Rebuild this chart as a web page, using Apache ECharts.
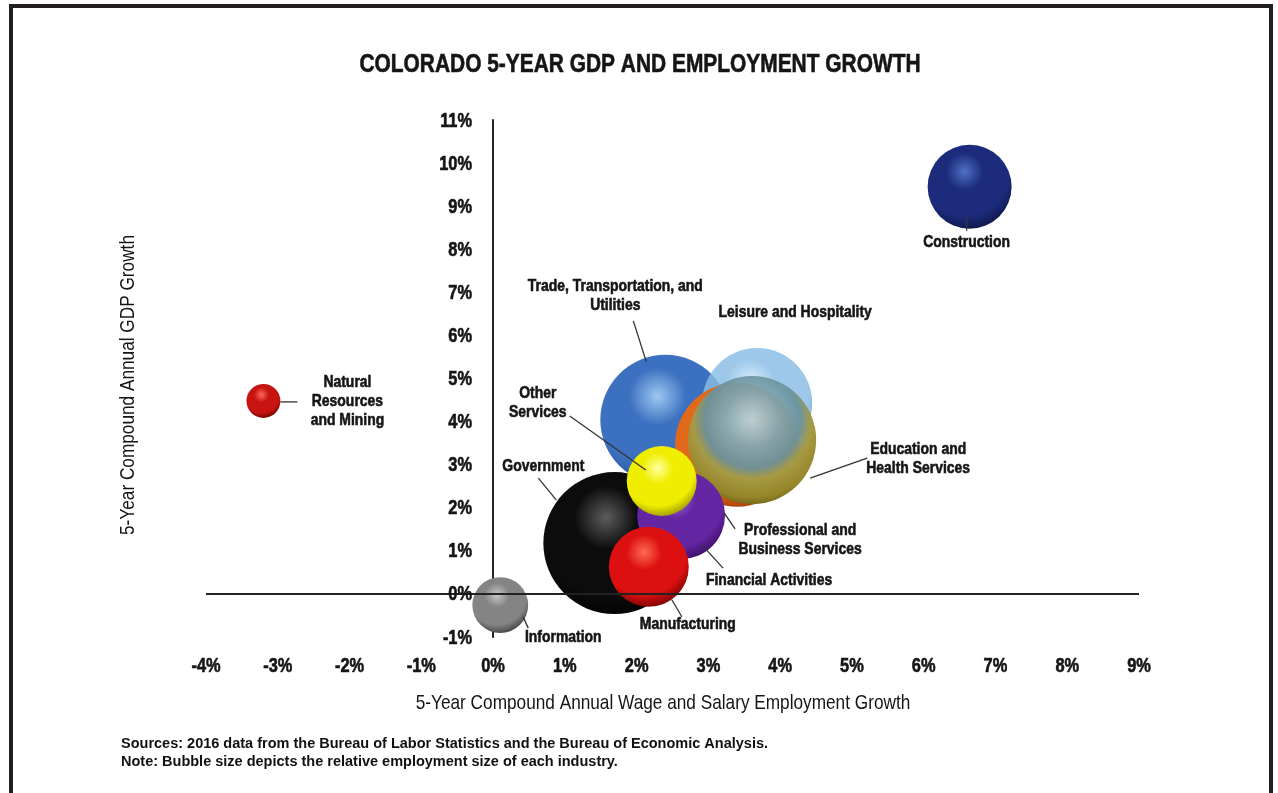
<!DOCTYPE html>
<html>
<head>
<meta charset="utf-8">
<script src="https://cdn.jsdelivr.net/npm/echarts@6/dist/echarts.min.js"></script>
<style>
  html, body { margin: 0; padding: 0; background: #fff; }
  #chart { width: 1278px; height: 793px; }
</style>
</head>
<body>
<div id="chart"></div>
<script>
// Industries, listed back-to-front (later entries are painted on top)
const industries = [
  'Trade, Transportation, and Utilities',
  'Leisure and Hospitality',
  'Professional and Business Services',
  'Education and Health Services',
  'Government',
  'Financial Activities',
  'Other Services',
  'Manufacturing',
  'Information',
  'Construction',
  'Natural Resources and Mining'
];
// 5-year compound annual wage & salary employment growth (%)
const employmentGrowth = [2.40, 3.68, 3.40, 3.61, 1.69, 2.62, 2.35, 2.17, 0.10, 6.64, -3.20];
// 5-year compound annual GDP growth (%)
const gdpGrowth = [4.04, 4.43, 3.46, 3.57, 1.18, 1.83, 2.62, 0.63, -0.26, 9.45, 4.48];
// Relative employment size of each industry (thousands of jobs)
const employment = [352, 252, 320, 341, 420, 161, 102, 133, 65, 147, 24];

// Axis ticks
const xTickValues = [-4, -3, -2, -1, 0, 1, 2, 3, 4, 5, 6, 7, 8, 9];
const xTickLabels = ['-4%', '-3%', '-2%', '-1%', '0%', '1%', '2%', '3%', '4%', '5%', '6%', '7%', '8%', '9%'];
const yTickValues = [-1, 0, 1, 2, 3, 4, 5, 6, 7, 8, 9, 10, 11];
const yTickLabels = ['-1%', '0%', '1%', '2%', '3%', '4%', '5%', '6%', '7%', '8%', '9%', '10%', '11%'];

const xMin = -4, xMax = 9, yMin = -1, yMax = 11;

// Condensed look: Arial-metric face squeezed horizontally
const SANS = "'Liberation Sans', Arial, sans-serif";
const NARROW_SCALE = 0.82;

// Sphere shading per industry: highlight, body, rim
const shades = {
  'Trade, Transportation, and Utilities': ['#9cc8f0', '#3c70c0', '#23508f'],
  'Leisure and Hospitality': ['rgba(214,236,252,0.86)', 'rgba(136,188,228,0.82)', 'rgba(92,144,196,0.86)'],
  'Professional and Business Services': ['#ffa860', '#e2681a', '#9a3800'],
  'Government': ['#5c5c5c', '#0c0c0c', '#000000'],
  'Financial Activities': ['#a270dc', '#6526a4', '#36085e'],
  'Other Services': ['#ffffa0', '#f0ee00', '#8c8800'],
  'Manufacturing': ['#ff6a56', '#dc1010', '#640000'],
  'Information': ['#c8c8c8', '#848484', '#343434'],
  'Construction': ['#4f70c4', '#1c2b7c', '#0a123e'],
  'Natural Resources and Mining': ['#ff6a5a', '#c81410', '#560000']
};

function sphere(name) {
  if (name === 'Education and Health Services') {
    // glassy teal-grey dome with an olive-gold lower rim
    return {
      type: 'radial', x: 0.5, y: 0.34, r: 0.72,
      colorStops: [
        { offset: 0, color: 'rgba(186,216,226,0.9)' },
        { offset: 0.3, color: 'rgba(128,168,180,0.92)' },
        { offset: 0.52, color: 'rgba(106,146,156,0.94)' },
        { offset: 0.64, color: '#a69a44' },
        { offset: 0.84, color: '#96862a' },
        { offset: 1, color: '#5a4e0e' }
      ]
    };
  }
  const s = shades[name];
  return {
    type: 'radial', x: 0.44, y: 0.32, r: 0.74,
    colorStops: [
      { offset: 0, color: s[0] },
      { offset: 0.3, color: s[1] },
      { offset: 0.72, color: s[1] },
      { offset: 1, color: s[2] }
    ]
  };
}

// Bubble diameter grows with the square root of employment (area ∝ jobs)
const sizeScale = 6.93;

const bubbleData = industries.map((name, i) => ({
  name: name,
  value: [employmentGrowth[i], gdpGrowth[i], employment[i]],
  itemStyle: { color: sphere(name), opacity: 1 }
}));

// Callout placement relative to each bubble centre (pixels): label centre and leader line
const callouts = {
  'Construction': { text: 'Construction', lx: -3, ly: 56, line: [-3, 28, -3, 44] },
  'Natural Resources and Mining': { text: 'Natural\nResources\nand Mining', lx: 84, ly: 0, line: [17, 1, 34, 1] },
  'Trade, Transportation, and Utilities': { text: 'Trade, Transportation, and\nUtilities', lx: -50, ly: -124, line: [-32, -99, -19, -58] },
  'Leisure and Hospitality': { text: 'Leisure and Hospitality', lx: 38, ly: -91 },
  'Education and Health Services': { text: 'Education and\nHealth Services', lx: 166, ly: 19, line: [115, 18, 58, 38] },
  'Professional and Business Services': { text: 'Professional and\nBusiness Services', lx: 63, ly: 95, line: [-2, 84, -13, 68] },
  'Government': { text: 'Government', lx: -71, ly: -77, line: [-76, -65, -58, -43] },
  'Financial Activities': { text: 'Financial Activities', lx: 88, ly: 65, line: [42, 53, 21, 30] },
  'Other Services': { text: 'Other\nServices', lx: -124, ly: -78, line: [-92, -65, -16, -11] },
  'Manufacturing': { text: 'Manufacturing', lx: 39, ly: 58, line: [33, 50, 23, 33] },
  'Information': { text: 'Information', lx: 63, ly: 32, line: [23, 12, 28, 23] }
};

const chart = echarts.init(document.getElementById('chart'), null, { renderer: 'canvas' });

chart.setOption({
  animation: false,
  backgroundColor: '#ffffff',
  grid: { left: 206, right: 139, top: 120, bottom: 156, containLabel: false },
  xAxis: {
    type: 'value', min: xMin, max: xMax, interval: 1,
    axisLine: { show: false },
    axisTick: { show: false },
    splitLine: { show: false },
    axisLabel: { show: false }
  },
  yAxis: {
    type: 'value', min: yMin, max: yMax, interval: 1,
    axisLine: { show: true, onZero: true, lineStyle: { color: '#222', width: 2 } },
    axisTick: { show: false },
    splitLine: { show: false },
    axisLabel: { show: false }
  },
  series: [
    {
      // horizontal zero line across the plot
      type: 'line', data: [], z: 1,
      markLine: {
        silent: true, symbol: 'none', label: { show: false },
        lineStyle: { color: '#222', width: 2, type: 'solid' },
        data: [[{ coord: [xMin, 0] }, { coord: [xMax, 0] }]]
      }
    },
    {
      type: 'scatter', z: 3,
      data: bubbleData,
      symbolSize: v => sizeScale * Math.sqrt(v[2]),
      itemStyle: { opacity: 1 },
      emphasis: { disabled: true },
      label: { show: false }
    }
  ]
});

function narrowText(x, y, text, size, weight, align) {
  const bold = weight === 'bold';
  return {
    type: 'text', x: x, y: y, z: 21, silent: true, scaleX: NARROW_SCALE,
    style: {
      text: text, align: align || 'center', verticalAlign: 'middle', lineHeight: 19,
      fontFamily: SANS, fontWeight: weight, fontSize: size, fill: '#151515',
      stroke: bold ? '#151515' : null, lineWidth: bold ? 0.6 : 0
    }
  };
}

// Frame, title, axis titles, tick labels, callouts and source notes
const graphics = [
  {
    type: 'rect', silent: true, z: 0,
    shape: { x: 11, y: 6, width: 1260, height: 900 },
    style: { fill: null, stroke: '#231f20', lineWidth: 4 }
  },
  narrowText(640, 65, 'COLORADO 5-YEAR GDP AND EMPLOYMENT GROWTH', 25.5, 'bold'),
  narrowText(663, 703, '5-Year Compound Annual Wage and Salary Employment Growth', 21, 'normal'),
  {
    // y title, squeezed along its own reading direction
    type: 'group', x: 128, y: 385, rotation: Math.PI / 2, silent: true,
    children: [narrowText(0, 0, '5-Year Compound Annual GDP Growth', 21, 'normal')]
  },
  {
    type: 'text', x: 121, y: 744, z: 10,
    style: { text: 'Sources: 2016 data from the Bureau of Labor Statistics and the Bureau of Economic Analysis.',
             align: 'left', verticalAlign: 'middle', fontFamily: SANS, fontWeight: 'bold', fontSize: 14.5, fill: '#111' }
  },
  {
    type: 'text', x: 121, y: 762, z: 10,
    style: { text: 'Note: Bubble size depicts the relative employment size of each industry.',
             align: 'left', verticalAlign: 'middle', fontFamily: SANS, fontWeight: 'bold', fontSize: 14.5, fill: '#111' }
  }
];

// tick labels placed through the axis scales
const yAxisPx = chart.convertToPixel({ xAxisIndex: 0 }, 0);
const xLabelY = chart.convertToPixel({ yAxisIndex: 0 }, yMin) + 29;
xTickValues.forEach((v, i) => {
  graphics.push(narrowText(chart.convertToPixel({ xAxisIndex: 0 }, v), xLabelY, xTickLabels[i], 20, 'bold'));
});
yTickValues.forEach((v, i) => {
  graphics.push(narrowText(yAxisPx - 21, chart.convertToPixel({ yAxisIndex: 0 }, v) + 1, yTickLabels[i], 20, 'bold', 'right'));
});

industries.forEach((name, i) => {
  const c = callouts[name];
  const p = chart.convertToPixel({ seriesIndex: 1 }, [employmentGrowth[i], gdpGrowth[i]]);
  if (c.line) {
    graphics.push({
      type: 'line', z: 20, silent: true,
      shape: { x1: p[0] + c.line[0], y1: p[1] + c.line[1], x2: p[0] + c.line[2], y2: p[1] + c.line[3] },
      style: { stroke: '#333', lineWidth: 1.3 }
    });
  }
  graphics.push(narrowText(p[0] + c.lx, p[1] + c.ly, c.text, 17, 'bold'));
});

chart.setOption({ graphic: graphics });
</script>
</body>
</html>
